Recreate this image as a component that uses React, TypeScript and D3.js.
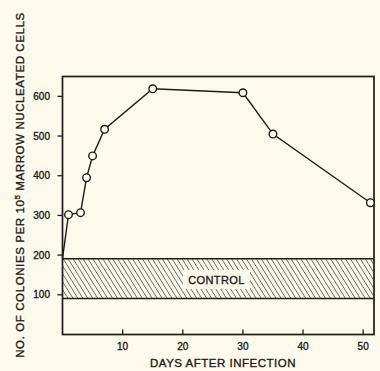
import React from 'react';
import * as d3 from 'd3';

// colonies per 10^5 marrow nucleated cells vs days after infection
const days = [0, 1, 3, 4, 5, 7, 15, 30, 35, 51.2];
const colonies = [192, 302, 307, 395, 450, 517, 619, 609, 505, 332];
const controlBand = [91, 191];
const xTicks = [10, 20, 30, 40, 50];
const yTicks = [100, 200, 300, 400, 500, 600];

const W = 380;
const H = 371;
const ink = '#1e1b18';
const font = '"Liberation Sans", Arial, sans-serif';
// lettering in the original is a bit heavier than the regular face
const heavy = { stroke: ink, strokeWidth: 0.35 };

export default function App() {
  const x = d3.scaleLinear().domain([0, 51.8]).range([62.5, 374]);
  const y = d3.scaleLinear().domain([0, 650]).range([334.5, 76.5]);

  const pts = days.map((d, i) => [x(d), y(colonies[i])] as [number, number]);
  const line = d3.line()(pts) || '';

  const bandTop = y(controlBand[1]);
  const bandBot = y(controlBand[0]);

  return (
    <svg width={W} height={H} style={{ position: 'absolute', left: 0, top: 0 }}>
      <defs>
        <pattern id="hatch" width="4.2" height="4.2" patternUnits="userSpaceOnUse" patternTransform="rotate(-32)">
          <line x1="0" y1="0" x2="0" y2="4.2" stroke={ink} strokeWidth="1.1" />
        </pattern>
      </defs>
      <rect width={W} height={H} fill="#fdfaec" />

      {/* control band */}
      <rect x={x(0)} y={bandTop} width={x(51.8) - x(0)} height={bandBot - bandTop} fill="url(#hatch)" />
      <rect x={183} y={270} width={67} height={19} fill="#fdfaec" />
      <line x1={x(0)} x2={x(51.8)} y1={bandTop} y2={bandTop} stroke={ink} strokeWidth={1.5} />
      <line x1={x(0)} x2={x(51.8)} y1={bandBot} y2={bandBot} stroke={ink} strokeWidth={1.5} />
      <text x={216.5} y={283.5} textAnchor="middle" fontFamily={font} fontSize={11} fill={ink} letterSpacing={0.4} {...heavy}>
        CONTROL
      </text>

      {/* frame */}
      <rect x={x(0)} y={y(650)} width={x(51.8) - x(0)} height={y(0) - y(650)} fill="none" stroke={ink} strokeWidth={1.7} />

      {/* y axis */}
      {yTicks.map((t) => (
        <g key={t}>
          <line x1={x(0) - 5} x2={x(0)} y1={y(t)} y2={y(t)} stroke={ink} strokeWidth={1.3} />
          <text x={50} y={y(t) + 3.5} textAnchor="end" fontFamily={font} fontSize={10} fill={ink} {...heavy}>
            {t}
          </text>
        </g>
      ))}

      {/* x axis */}
      {xTicks.map((t) => (
        <g key={t}>
          <line x1={x(t)} x2={x(t)} y1={y(0)} y2={y(0) - 5} stroke={ink} strokeWidth={1.3} />
          <text x={x(t)} y={349.5} textAnchor="middle" fontFamily={font} fontSize={10} fill={ink} {...heavy}>
            {t}
          </text>
        </g>
      ))}

      <text x={223} y={367} textAnchor="middle" fontFamily={font} fontSize={11.5} fill={ink} letterSpacing={0.5} {...heavy}>
        DAYS AFTER INFECTION
      </text>

      <text
        transform="translate(24,185) rotate(-90)"
        textAnchor="middle"
        fontFamily={font}
        fontSize={11.5}
        fill={ink}
        letterSpacing={0.6}
        {...heavy}
      >
        NO. OF COLONIES PER 10<tspan dy={-4} fontSize={8}>5</tspan>
        <tspan dy={4}> MARROW NUCLEATED CELLS</tspan>
      </text>

      {/* data */}
      <path d={line} fill="none" stroke={ink} strokeWidth={1.4} />
      {pts.slice(1).map((p, i) => (
        <circle key={i} cx={p[0]} cy={p[1]} r={3.8} fill="#fffdf4" stroke={ink} strokeWidth={1.4} />
      ))}
    </svg>
  );
}
